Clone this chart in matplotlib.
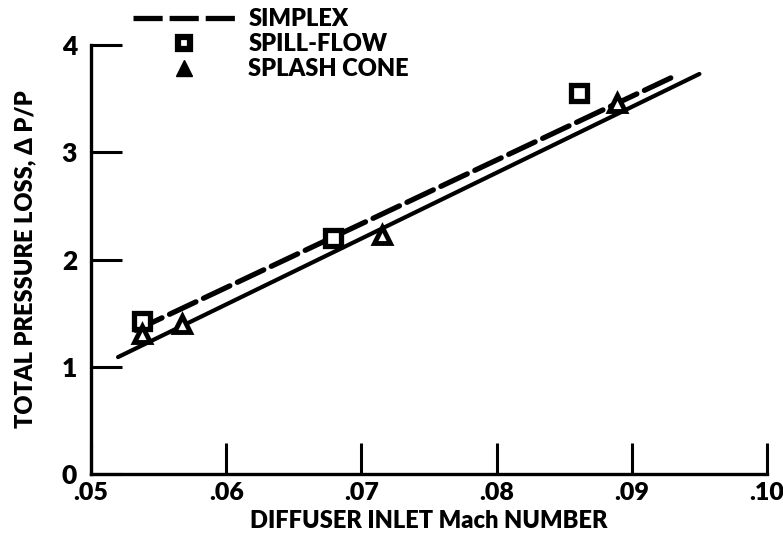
import matplotlib
matplotlib.use("Agg")
import matplotlib.pyplot as plt
from matplotlib.lines import Line2D

plt.rcParams['font.family'] = ['Lato', 'DejaVu Sans']
plt.rcParams['font.weight'] = 'heavy'
plt.rcParams['lines.scale_dashes'] = False

# Data
simplex_x = [0.0533, 0.0930]
simplex_y = [1.34, 3.70]
fit_x = [0.0520, 0.0950]
fit_y = [1.09, 3.73]
spill_x = [0.0538, 0.0679, 0.0861]
spill_y = [1.43, 2.20, 3.55]
splash_x = [0.0538, 0.0567, 0.0715, 0.0889]
splash_y = [1.31, 1.40, 2.23, 3.46]

xticks = [0.05, 0.06, 0.07, 0.08, 0.09, 0.10]
xticklabels = ['.05', '.06', '.07', '.08', '.09', '.10']
yticks = [0, 1, 2, 3, 4]
yticklabels = ['0', '1', '2', '3', '4']

W = 'heavy'

fig = plt.figure(figsize=(7.83, 5.44), dpi=100)
ax = fig.add_axes([91/783, 1-474/544, (767-91)/783, (474-45)/544])

ax.plot(fit_x, fit_y, color='black', lw=3.0, solid_capstyle='round')
ax.plot(simplex_x, simplex_y, color='black', lw=3.8, dashes=(21, 6), dash_capstyle='round')
ax.plot(spill_x, spill_y, ls='none', marker='s', ms=11, mfc='white', mec='black', mew=3.8)
ax.plot(splash_x, splash_y, ls='none', marker='^', ms=12, mfc='white', mec='black', mew=3.5)

ax.set_xlim(0.05, 0.10)
ax.set_ylim(0, 4)
for s in ['top', 'right']:
    ax.spines[s].set_visible(False)
for s in ['left', 'bottom']:
    ax.spines[s].set_linewidth(2.4)

ax.set_xticks(xticks)
ax.set_xticklabels(xticklabels, fontweight=W, fontsize=18)
ax.set_yticks(yticks)
ax.set_yticklabels(yticklabels, fontweight=W, fontsize=19)
ax.tick_params(axis='both', direction='in', length=22, width=2.2)
ax.tick_params(axis='x', pad=6)
ax.tick_params(axis='y', pad=10)

ax.set_xlabel('DIFFUSER INLET Mach NUMBER', fontsize=17, fontweight=W, labelpad=4)
ax.set_ylabel('TOTAL PRESSURE LOSS, \u0394 P/P', fontsize=17, fontweight=W, labelpad=18)

handles = [
    Line2D([], [], color='black', lw=3.8, dashes=(21, 5)),
    Line2D([], [], ls='none', marker='s', ms=9, mfc='white', mec='black', mew=4.5),
    Line2D([], [], ls='none', marker='^', ms=11, mfc='black', mec='black'),
]
labels = ['SIMPLEX', 'SPILL-FLOW', 'SPLASH CONE']
leg = ax.legend(handles, labels, loc='upper left', bbox_to_anchor=(0.03, 1.135),
                frameon=False, handlelength=4.4, handletextpad=0.5, labelspacing=0.12,
                prop={'size': 17, 'weight': W})

fig.savefig('out.png', dpi=100)
